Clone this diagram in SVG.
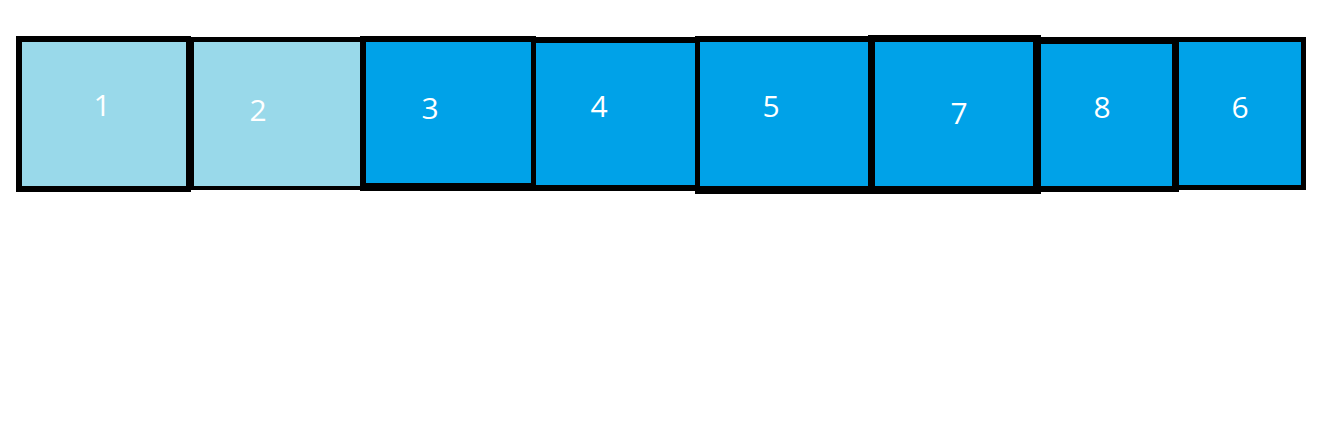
<svg xmlns="http://www.w3.org/2000/svg" width="1327" height="424" viewBox="0 0 1327 424">
<style>
.b{fill:#000}
.l{fill:#99D9EA}
.d{fill:#00A2E8}
text{font-family:"Open Sans","Noto Sans",sans-serif;font-size:30px;fill:#fff;text-anchor:middle}
</style>
<rect width="1327" height="424" fill="#fff"/>
<g id="n1"><rect class="b" x="16" y="36" width="175" height="156"/><rect class="l" x="22" y="42" width="164" height="144"/><text x="102" y="116">1</text></g>
<g id="n2"><rect class="b" x="186" y="37" width="180" height="153"/><rect class="l" x="194" y="42" width="166" height="144"/><text x="258" y="121">2</text></g>
<g id="n3"><rect class="b" x="360" y="36" width="176" height="155"/><rect class="d" x="366" y="42" width="165" height="141"/><text x="430" y="119">3</text></g>
<g id="n4"><rect class="b" x="531" y="37" width="169" height="154"/><rect class="d" x="536" y="43" width="159" height="142"/><text x="599" y="117">4</text></g>
<g id="n5"><rect class="b" x="695" y="36" width="180" height="158"/><rect class="d" x="700" y="42" width="168" height="144"/><text x="771" y="117">5</text></g>
<g id="n7"><rect class="b" x="868" y="35" width="173" height="159"/><rect class="d" x="875" y="42" width="158" height="144"/><text x="959" y="124">7</text></g>
<g id="n8"><rect class="b" x="1033" y="37" width="146" height="155"/><rect class="d" x="1041" y="44" width="131" height="142"/><text x="1102" y="118">8</text></g>
<g id="n6"><rect class="b" x="1172" y="37" width="134" height="153"/><rect class="d" x="1179" y="42" width="122" height="143"/><text x="1240" y="118">6</text></g>
<g id="connectors"></g>
</svg>
